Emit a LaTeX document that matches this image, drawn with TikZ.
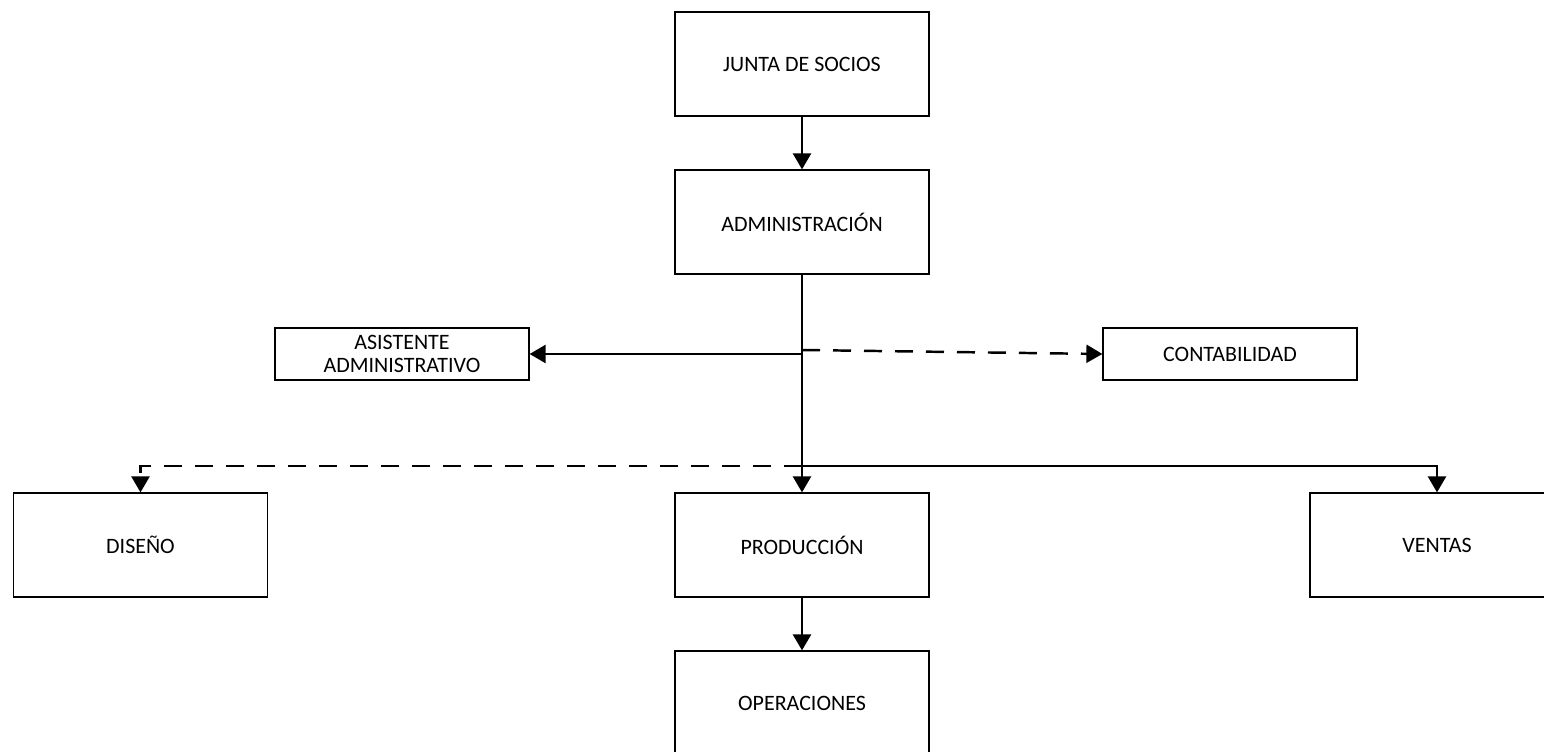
\documentclass[tikz,border=0pt]{standalone}
\usepackage{fontspec}
\setmainfont{Carlito}
\usetikzlibrary{arrows.meta,positioning,calc}

\begin{document}
\begin{tikzpicture}[
    box/.style={draw, line width=0.7pt, minimum width=5.08cm, minimum height=2.08cm, align=center, font=\fontsize{12.5}{13.5}\selectfont},
    smallbox/.style={box, minimum height=1.04cm},
    arrow/.style={-{Triangle[length=0.32cm, width=0.36cm]}, line width=1.4pt},
    dashedarrow/.style={arrow, dash pattern=on 0.36cm off 0.26cm}
]

% fixed frame of the picture
\useasboundingbox (0,0) rectangle (30.88,-15.04);

% Top of the chart
\node[box] (junta) at (16.04,-1.28) {JUNTA DE SOCIOS};
\node[box] (admin) at (16.04,-4.44) {ADMINISTRACIÓN};

% Staff units
\node[smallbox] (asistente) at (8.04,-7.08) {ASISTENTE\\ADMINISTRATIVO};
\node[smallbox] (contab) at (24.6,-7.08) {CONTABILIDAD};

% Line departments
\node[box] (diseno) at (2.81,-10.9) {DISEÑO};
\node[box] (produccion) at (16.04,-10.9) {PRODUCCIÓN};
\node[box] (ventas) at (28.74,-10.9) {VENTAS};
\node[box] (operaciones) at (16.04,-14.06) {OPERACIONES};

% Branch points on the main line
\coordinate (staff) at (16.04,-7.08);
\coordinate (staffdash) at (16.04,-7.0);
\coordinate (depts) at (16.04,-9.32);

% Connections
\draw[arrow] (junta) -- (admin);
\draw[arrow] (admin) -- (produccion);
\draw[arrow] (staff) -- (asistente);
\draw[dashedarrow] (staffdash) -- (contab.west);
\draw[dashedarrow] (depts) -| (diseno.north);
\draw[arrow] (depts) -| (ventas.north);
\draw[arrow] (produccion) -- (operaciones);

\end{tikzpicture}
\end{document}
